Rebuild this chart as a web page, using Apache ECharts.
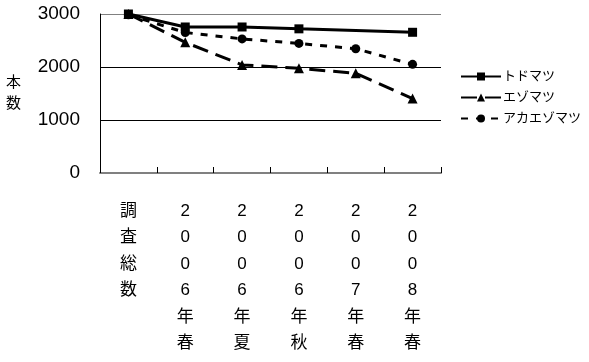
<!DOCTYPE html>
<html><head><meta charset="utf-8">
<script src="https://cdn.jsdelivr.net/npm/echarts@6/dist/echarts.min.js"></script>
<style>html,body{margin:0;padding:0;background:#fff}#c{width:589px;height:362px}</style>
</head><body><div id="c"></div>
<script>
const categories = ['調査総数','2006年春','2006年夏','2006年秋','2007年春','2008年春'];
const todomatsu = [3000, 2755, 2755, 2720, null, 2655];
const ezomatsu = [3000, 2465, 2040, 1975, 1880, 1405];
const akaezomatsu = [2985, 2650, 2530, 2445, 2345, 2050];
const yTicks = [0, 1000, 2000, 3000];
const seriesNames = ['トドマツ','エゾマツ','アカエゾマツ'];

const FONT = '"Liberation Sans", "Noto Sans CJK JP", sans-serif';
const chart = echarts.init(document.getElementById('c'));
chart.setOption({
  animation: false,
  backgroundColor: '#fff',
  grid: {left: 100, right: 148, top: 14, bottom: 189},
  legend: {
    orient: 'vertical', left: 455, top: 65, itemGap: 8, itemWidth: 40, itemHeight: 10,
    textStyle: {fontFamily: FONT, fontSize: 13, color: '#000', padding: [0, 0, 0, -3]},
    data: seriesNames
  },
  xAxis: {
    type: 'category', data: categories, boundaryGap: true,
    axisLine: {lineStyle: {color: '#808080', width: 2}},
    axisTick: {show: true, lineStyle: {color: '#000'}, length: 6, inside: true},
    axisLabel: {
      interval: 0, margin: 25, fontFamily: FONT, fontSize: 17, color: '#000',
      lineHeight: 26.5, verticalAlign: 'top',
      formatter: v => v.split('').join('\n')
    }
  },
  yAxis: {
    type: 'value', min: yTicks[0], max: yTicks[yTicks.length-1], interval: 1000,
    name: '本\n数', nameLocation: 'middle', nameGap: 79, nameRotate: 0,
    nameTextStyle: {fontFamily: FONT, fontSize: 15, color: '#000', lineHeight: 21,
      padding: [8, 0, 0, 0]},
    axisLine: {show: true, lineStyle: {color: '#000', width: 1}},
    axisTick: {show: false},
    axisLabel: {fontFamily: FONT, fontSize: 19, color: '#000', margin: 20,
      formatter: v => String(v)},
    splitLine: {lineStyle: {color: ['#000', '#000', '#000', '#808080'], width: 1}}
  },
  series: [
    {name: seriesNames[0], type: 'line', data: todomatsu, connectNulls: true,
     symbol: 'rect', symbolSize: 9, itemStyle: {color: '#000'},
     lineStyle: {color: '#000', width: 3, type: 'solid'}},
    {name: seriesNames[1], type: 'line', data: ezomatsu,
     symbol: 'triangle', symbolSize: 10, itemStyle: {color: '#000'},
     lineStyle: {color: '#000', width: 3, type: [16, 8]}},
    {name: seriesNames[2], type: 'line', data: akaezomatsu,
     symbol: 'circle', symbolSize: 9, itemStyle: {color: '#000'},
     lineStyle: {color: '#000', width: 3, type: [7, 8]}}
  ]
});
</script></body></html>
